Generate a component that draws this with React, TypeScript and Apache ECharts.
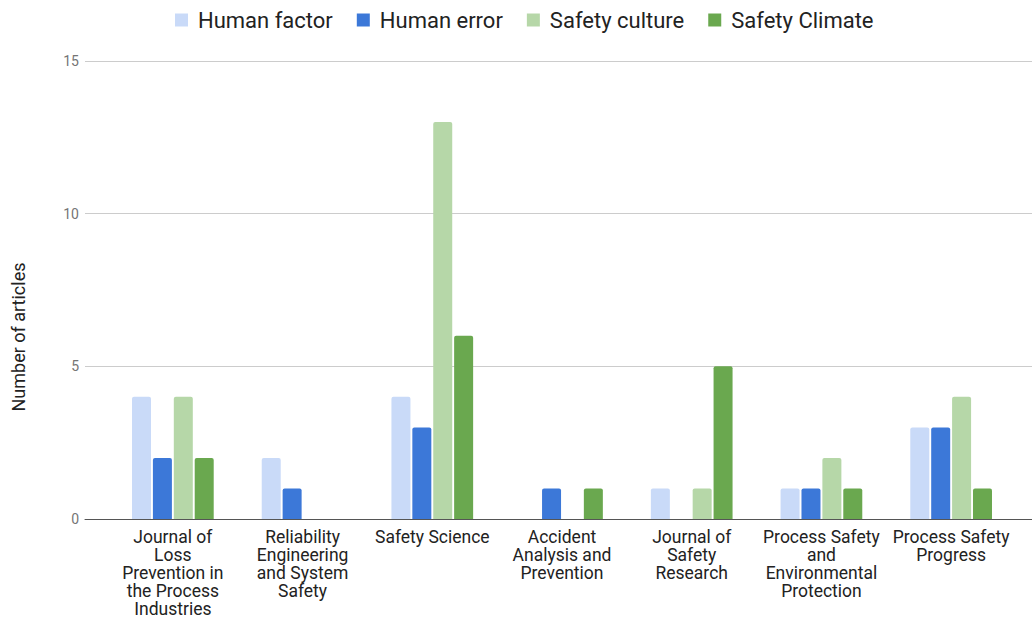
import React, { useEffect, useRef } from "react";
import * as echarts from "echarts";

const categories = [
  "Journal of\nLoss\nPrevention in\nthe Process\nIndustries",
  "Reliability\nEngineering\nand System\nSafety",
  "Safety Science",
  "Accident\nAnalysis and\nPrevention",
  "Journal of\nSafety\nResearch",
  "Process Safety\nand\nEnvironmental\nProtection",
  "Process Safety\nProgress",
];
const seriesNames = ["Human factor", "Human error", "Safety culture", "Safety Climate"];
const humanFactor = [4, 2, 4, null, 1, 1, 3];
const humanError = [2, 1, 3, 1, null, 1, 3];
const safetyCulture = [4, null, 13, null, 1, 2, 4];
const safetyClimate = [2, null, 6, 1, 5, 1, 1];
const colors = ["#c9daf8", "#3c78d8", "#b6d7a8", "#6aa84f"];
const yTicks = { min: 0, max: 15, interval: 5 };
const yAxisTitle = "Number of articles";

export default function App() {
  const ref = useRef<HTMLDivElement>(null);
  useEffect(() => {
    document.body.style.margin = "0";
    const chart = echarts.init(ref.current!, null, { renderer: "svg" });
    const values = [humanFactor, humanError, safetyCulture, safetyClimate];
    chart.setOption({
      animation: false,
      textStyle: { fontFamily: "Roboto" },
      legend: {
        top: 4,
        left: 170,
        itemWidth: 13,
        itemHeight: 13,
        itemGap: 24,
        icon: "rect",
        textStyle: { fontSize: 22, color: "#222", fontFamily: "Roboto", padding: [0, 0, 0, 5] },
        data: seriesNames,
      },
      grid: [
        { left: 108, right: 16, top: 61, bottom: 102 },
        { left: 85, right: 0, top: 61, bottom: 102 },
      ],
      xAxis: [
        {
          type: "category",
          gridIndex: 0,
          data: categories,
          axisLine: { show: false },
          axisTick: { show: false },
          axisLabel: {
            interval: 0,
            margin: 9,
            fontSize: 17.5,
            lineHeight: 18,
            color: "#222",
            fontFamily: "Roboto",
          },
        },
        {
          type: "category",
          gridIndex: 1,
          data: [""],
          axisLine: { show: true, lineStyle: { color: "#555", width: 1 } },
          axisTick: { show: false },
          axisLabel: { show: false },
        },
      ],
      yAxis: [
        {
          type: "value",
          gridIndex: 0,
          ...yTicks,
          axisLabel: { show: false },
          splitLine: { show: false },
          axisLine: { show: false },
        },
        {
          type: "value",
          gridIndex: 1,
          ...yTicks,
          axisLabel: { color: "#757575", fontSize: 14, margin: 6, fontFamily: "Roboto" },
          splitLine: { show: true, lineStyle: { color: "#cccccc", width: 1 } },
          axisLine: { show: false },
          axisTick: { show: false },
        },
      ],
      graphic: [
        {
          type: "text",
          x: 18,
          y: 337,
          rotation: Math.PI / 2,
          style: {
            text: yAxisTitle,
            fontSize: 18,
            fill: "#222",
            fontFamily: "Roboto",
            align: "center",
            verticalAlign: "middle",
          },
        },
      ],
      series: seriesNames.map((name, i) => ({
        name,
        type: "bar",
        xAxisIndex: 0,
        yAxisIndex: 0,
        data: values[i],
        barWidth: 19,
        barGap: "10%",
        itemStyle: { color: colors[i], borderRadius: [2, 2, 0, 0] },
      })),
    });
    return () => chart.dispose();
  }, []);
  return <div ref={ref} style={{ width: 1032, height: 621 }} />;
}
